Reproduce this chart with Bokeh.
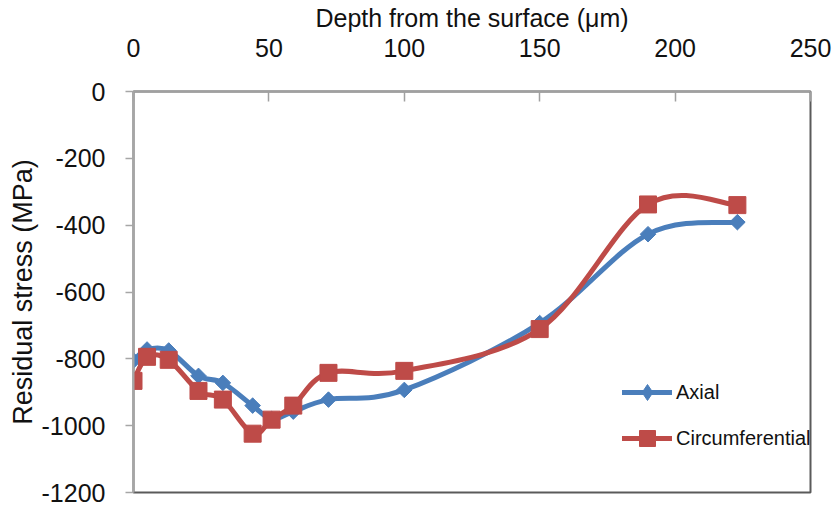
import numpy as np
from bokeh.plotting import figure
from bokeh.models import (Range1d, FixedTicker, Legend, LegendItem,
                          ColumnDataSource, CustomJSTickFormatter)
from bokeh.embed import file_html
from bokeh.resources import INLINE

# ---- data ----
depth_axial = [0, 5, 13, 24, 33, 44, 51, 59, 72, 100, 150, 190, 223]
stress_axial = [-805, -772, -775, -851, -872, -940, -980, -958, -922, -893, -693, -427, -391]
depth_circ = [0, 5, 13, 24, 33, 44, 51, 59, 72, 100, 150, 190, 223]
stress_circ = [-866, -794, -803, -896, -922, -1024, -982, -940, -842, -836, -711, -338, -340]
x_ticks = [0, 50, 100, 150, 200, 250]
y_ticks = [-1200, -1000, -800, -600, -400, -200, 0]

BLUE = "#4a7ebb"
RED = "#be4b48"
FONT = "Liberation Sans"


def smooth_segments(x, y):
    """Excel-like smoothed line: cubic Bezier segments (Catmull-Rom control points)."""
    n = len(x)
    d = dict(x0=[], y0=[], x1=[], y1=[], cx0=[], cy0=[], cx1=[], cy1=[])
    for i in range(n - 1):
        a = i - 1 if i > 0 else i
        b = i + 2 if i + 2 < n else i + 1
        d["x0"].append(x[i]); d["y0"].append(y[i])
        d["x1"].append(x[i + 1]); d["y1"].append(y[i + 1])
        d["cx0"].append(x[i] + (x[i + 1] - x[a]) / 6.0)
        d["cy0"].append(y[i] + (y[i + 1] - y[a]) / 6.0)
        d["cx1"].append(x[i + 1] - (x[b] - x[i]) / 6.0)
        d["cy1"].append(y[i + 1] - (y[b] - y[i]) / 6.0)
    return ColumnDataSource(d)


p = figure(width=835, height=511, output_backend="svg", toolbar_location=None,
           x_range=Range1d(x_ticks[0], x_ticks[-1]), y_range=Range1d(y_ticks[0], y_ticks[-1]),
           x_axis_location="above",
           min_border_left=133, min_border_right=25, min_border_top=90,
           min_border_bottom=19)
p.grid.visible = False
p.outline_line_color = "#5a5a5a"
p.outline_line_width = 2
p.background_fill_color = "white"

plain = CustomJSTickFormatter(code="return tick.toFixed(0);")

# top x axis
xa = p.xaxis[0]
xa.ticker = FixedTicker(ticks=x_ticks)
xa.formatter = plain
xa.axis_label = "Depth from the surface (\u03bcm)"
xa.axis_label_text_font = FONT
xa.axis_label_text_font_style = "normal"
xa.axis_label_text_font_size = "25px"
xa.axis_label_text_color = "#111111"
xa.axis_label_standoff = 4
xa.major_label_text_font = FONT
xa.major_label_text_font_size = "25px"
xa.major_label_text_color = "#111111"
xa.major_label_standoff = 35
xa.major_tick_in = 10
xa.major_tick_out = 0
xa.minor_tick_line_color = None
xa.axis_line_color = "#a0a0a0"
xa.major_tick_line_color = "#a0a0a0"
xa.axis_line_width = 2
xa.major_tick_line_width = 1.5

# left y axis
ya = p.yaxis[0]
ya.ticker = FixedTicker(ticks=y_ticks)
ya.formatter = plain
ya.axis_label = "Residual stress (MPa)"
ya.axis_label_text_font = FONT
ya.axis_label_text_font_style = "normal"
ya.axis_label_text_font_size = "27px"
ya.axis_label_text_color = "#111111"
ya.axis_label_standoff = 1
ya.major_label_text_font = FONT
ya.major_label_text_font_size = "25px"
ya.major_label_text_color = "#111111"
ya.major_label_standoff = 20
ya.major_tick_in = 0
ya.major_tick_out = 8
ya.minor_tick_line_color = None
ya.axis_line_color = "#a6a6a6"
ya.major_tick_line_color = "#a6a6a6"
ya.axis_line_width = 2
ya.major_tick_line_width = 1.5

# smoothed lines
src_a = smooth_segments(depth_axial, stress_axial)
src_c = smooth_segments(depth_circ, stress_circ)
bz_a = p.bezier(x0="x0", y0="y0", x1="x1", y1="y1", cx0="cx0", cy0="cy0",
                cx1="cx1", cy1="cy1", source=src_a, line_color=BLUE,
                line_width=5, line_cap="round")
bz_c = p.bezier(x0="x0", y0="y0", x1="x1", y1="y1", cx0="cx0", cy0="cy0",
                cx1="cx1", cy1="cy1", source=src_c, line_color=RED,
                line_width=5, line_cap="round")

# markers
sc_a = p.scatter(depth_axial, stress_axial, marker="square", angle=np.pi / 4, size=11,
                 fill_color=BLUE, line_color=BLUE)
sc_c = p.scatter(depth_circ, stress_circ, marker="square", size=17,
                 fill_color=RED, line_color=RED)

# legend proxy for the diamond (legend markers are drawn unrotated); NaN = not drawn in plot
proxy_a = p.scatter(x=[float("nan")], y=[float("nan")], marker="diamond", size=16,
                    fill_color=BLUE, line_color=BLUE)

legend = Legend(items=[LegendItem(label="Axial", renderers=[bz_a, proxy_a]),
                       LegendItem(label="Circumferential", renderers=[bz_c, sc_c])],
                location=(489, 34))
legend.background_fill_alpha = 0
legend.border_line_alpha = 0
legend.label_text_font = FONT
legend.label_text_font_size = "20px"
legend.label_text_color = "#111111"
legend.glyph_width = 50
legend.glyph_height = 40
legend.label_height = 40
legend.spacing = 6
legend.padding = 0
legend.margin = 0
legend.label_standoff = 4
p.add_layout(legend)

open("out.html", "w").write(file_html(p, INLINE))
